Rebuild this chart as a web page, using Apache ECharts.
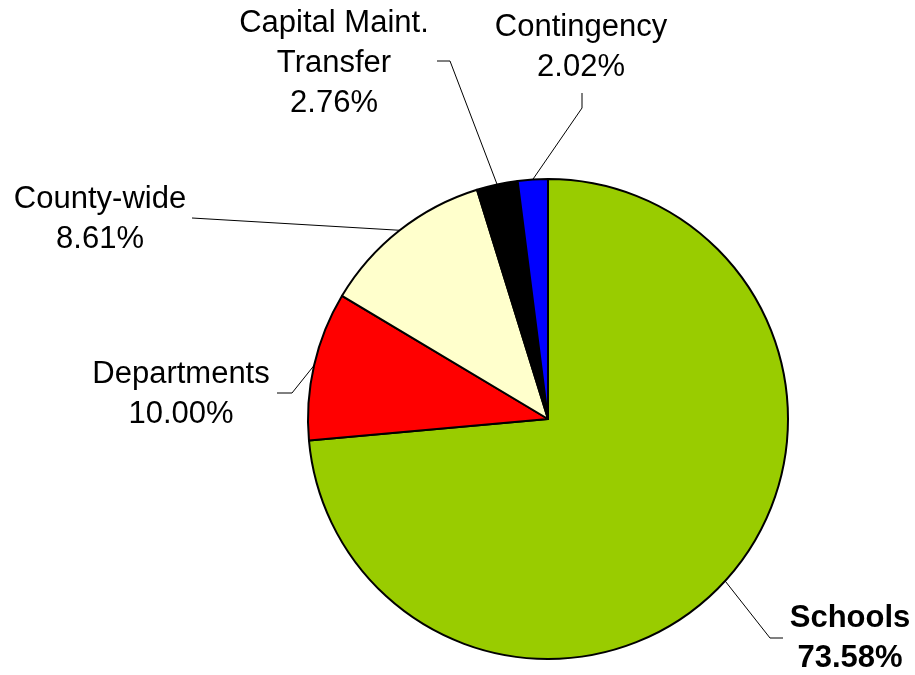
<!DOCTYPE html>
<html>
<head>
<meta charset="utf-8">
<script src="https://cdn.jsdelivr.net/npm/echarts@6/dist/echarts.min.js"></script>
<style>
html,body{margin:0;padding:0;background:#fff;}
#chart{width:915px;height:675px;}
</style>
</head>
<body>
<div id="chart"></div>
<script>
// Data
const categories = ['Schools', 'Departments', 'County-wide', 'Capital Maint.\nTransfer', 'Contingency'];
// slice sizes as drawn (percent of the circle)
const sliceValues = [73.58, 10.00, 11.64, 2.76, 2.02];
// percentages printed in the labels
const labelPercents = ['73.58%', '10.00%', '8.61%', '2.76%', '2.02%'];

const colors = ['#99CC00', '#FF0000', '#FFFFCC', '#000000', '#0000FF'];

// label placement (layout only)
const labelSpots = [
  { x: 850, y: 638, elbow: [770, 638], end: [783, 638] },
  { x: 181, y: 394, elbow: [292, 393], end: [277, 393] },
  { x: 100, y: 219, elbow: [192, 218], end: [192, 218] },
  { x: 334, y: 63,  elbow: [450, 61],  end: [437, 61] },
  { x: 581, y: 47,  elbow: [582, 108], end: [582, 93] }
];

const chart = echarts.init(document.getElementById('chart'), null, { renderer: 'canvas' });

const data = categories.map((c, i) => ({
  name: c,
  value: sliceValues[i],
  itemStyle: { color: colors[i] },
  label: {
    formatter: c + '\n' + labelPercents[i],
    fontWeight: i === 0 ? 'bold' : 'normal'
  }
}));

chart.setOption({
  animation: false,
  backgroundColor: '#ffffff',
  series: [{
    type: 'pie',
    center: [548, 419],
    radius: 240,
    startAngle: 90,
    clockwise: true,
    avoidLabelOverlap: false,
    itemStyle: { borderColor: '#000000', borderWidth: 2 },
    emphasis: { disabled: true },
    label: {
      show: true,
      position: 'outer',
      color: '#000000',
      fontFamily: 'Liberation Sans, Arial, sans-serif',
      fontSize: 31,
      lineHeight: 40,
      align: 'center'
    },
    labelLine: {
      show: true,
      length: 10,
      length2: 10,
      smooth: false,
      lineStyle: { color: '#000000', width: 1 }
    },
    labelLayout: function (p) {
      const s = labelSpots[p.dataIndex];
      const a = p.labelLinePoints ? p.labelLinePoints[0] : s.elbow;
      return {
        x: s.x,
        y: s.y,
        align: 'center',
        verticalAlign: 'middle',
        labelLinePoints: [a, s.elbow, s.end]
      };
    },
    data: data
  }]
});
</script>
</body>
</html>
